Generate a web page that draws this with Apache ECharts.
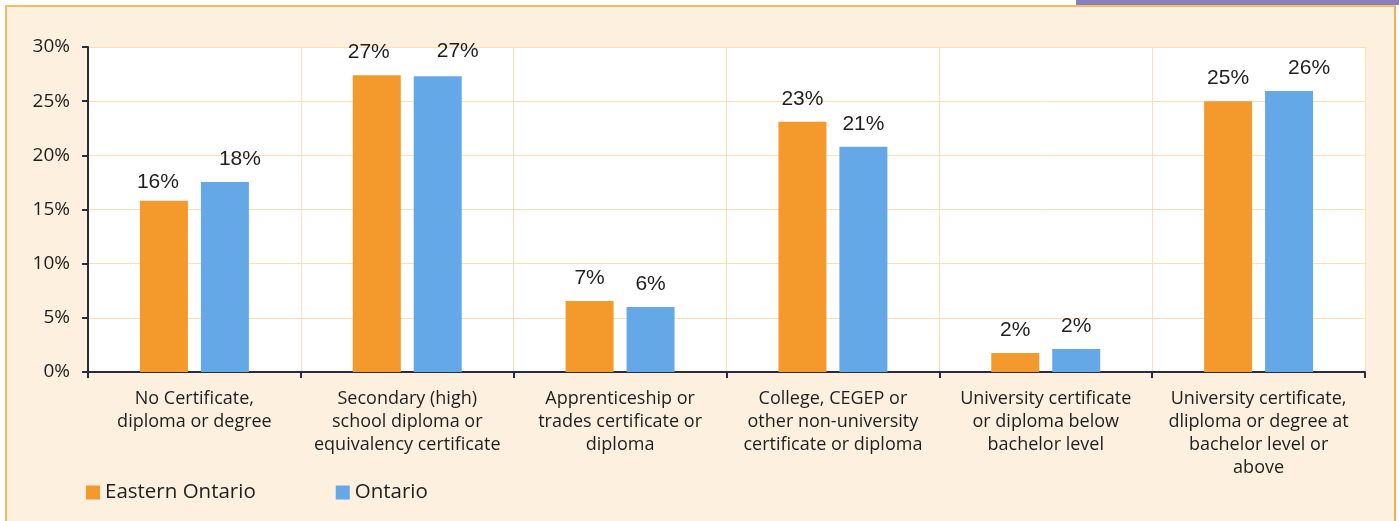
<!DOCTYPE html>
<html>
<head>
<meta charset="utf-8">
<script src="https://cdn.jsdelivr.net/npm/echarts@6/dist/echarts.min.js"></script>
<style>
  html, body { margin: 0; padding: 0; background: #ffffff; }
  #frame {
    position: absolute; left: 5px; top: 5px; width: 1391px; height: 520px;
    background: #fdf0df; border-left: 2px solid #f6bb62; border-top: 2px solid #f6bb62;
    border-right: 2px solid #f0ad55; box-sizing: border-box;
  }
  #tab { position: absolute; left: 1076px; top: 0; width: 323px; height: 5px; background: #8780bc; }
  #chart { position: absolute; left: 0; top: 0; width: 1399px; height: 521px; }
</style>
</head>
<body>
<div id="frame"></div>
<div id="tab"></div>
<div id="chart"></div>
<script>
// categories on the x axis
const categories = [
  'No Certificate,\ndiploma or degree',
  'Secondary (high)\nschool diploma or\nequivalency certificate',
  'Apprenticeship or\ntrades certificate or\ndiploma',
  'College, CEGEP or\nother non-university\ncertificate or diploma',
  'University certificate\nor diploma below\nbachelor level',
  'University certificate,\ndliploma or degree at\nbachelor level or\nabove'
]
// share of population (%)
const easternOntario = [15.8, 27.4, 6.55, 23.1, 1.75, 25.0]
const ontario = [17.55, 27.3, 6.0, 20.8, 2.12, 25.95]

// some data labels were moved by hand in the original, keep the same nudges
const easternNudge = { 0: [-6, 4], 1: [-8, 0] }
const ontarioNudge = { 0: [15, 0], 1: [20, -3], 5: [20, 0] }

const chart = echarts.init(document.getElementById('chart'))

const labelStyle = {
  show: true,
  position: 'top',
  distance: 12,
  fontFamily: 'Liberation Sans, Arial, sans-serif',
  fontSize: 21,
  color: '#1e1e1e',
  formatter: p => Math.round(p.value) + '%'
}

// bar data items, with the label offset where there is one
function withNudge(values, nudge) {
  return values.map((v, i) => nudge[i] ? { value: v, label: { offset: nudge[i] } } : v)
}

const option = {
  animation: false,
  textStyle: { fontFamily: 'Open Sans, sans-serif' },
  grid: { left: 88, right: 34, top: 47, bottom: 149, backgroundColor: '#ffffff', show: true, borderWidth: 0 },
  legend: {
    left: 86,
    top: 482,
    padding: 0,
    itemWidth: 14,
    itemHeight: 14,
    itemGap: 80,
    icon: 'rect',
    textStyle: { fontSize: 20.5, color: '#1e1e1e', fontFamily: 'Open Sans, sans-serif' },
    data: ['Eastern Ontario', 'Ontario']
  },
  xAxis: {
    type: 'category',
    data: categories,
    axisLine: { lineStyle: { color: '#2a2b40', width: 2 } },
    axisTick: { show: true, length: 6, lineStyle: { color: '#2a2b40', width: 2 } },
    splitLine: { show: true, lineStyle: { color: '#fde0b5', width: 1 } },
    axisLabel: {
      interval: 0,
      margin: 15,
      fontSize: 18,
      lineHeight: 23,
      color: '#1e1e1e'
    }
  },
  yAxis: {
    type: 'value',
    min: 0,
    max: 30,
    interval: 5,
    axisLine: { show: true, lineStyle: { color: '#2a2b40', width: 2 } },
    axisTick: { show: true, length: 6, lineStyle: { color: '#2a2b40', width: 2 } },
    splitLine: { show: true, lineStyle: { color: '#fde0b5', width: 1 } },
    axisLabel: { formatter: '{value}%', margin: 18, fontSize: 19, color: '#1e1e1e' }
  },
  series: [
    {
      name: 'Eastern Ontario',
      type: 'bar',
      data: withNudge(easternOntario, easternNudge),
      barWidth: 48,
      barGap: '27%',
      itemStyle: { color: '#f4992b' },
      label: labelStyle
    },
    {
      name: 'Ontario',
      type: 'bar',
      data: withNudge(ontario, ontarioNudge),
      barWidth: 48,
      barGap: '27%',
      itemStyle: { color: '#65a8e8' },
      label: labelStyle
    }
  ]
}

chart.setOption(option)
</script>
</body>
</html>
